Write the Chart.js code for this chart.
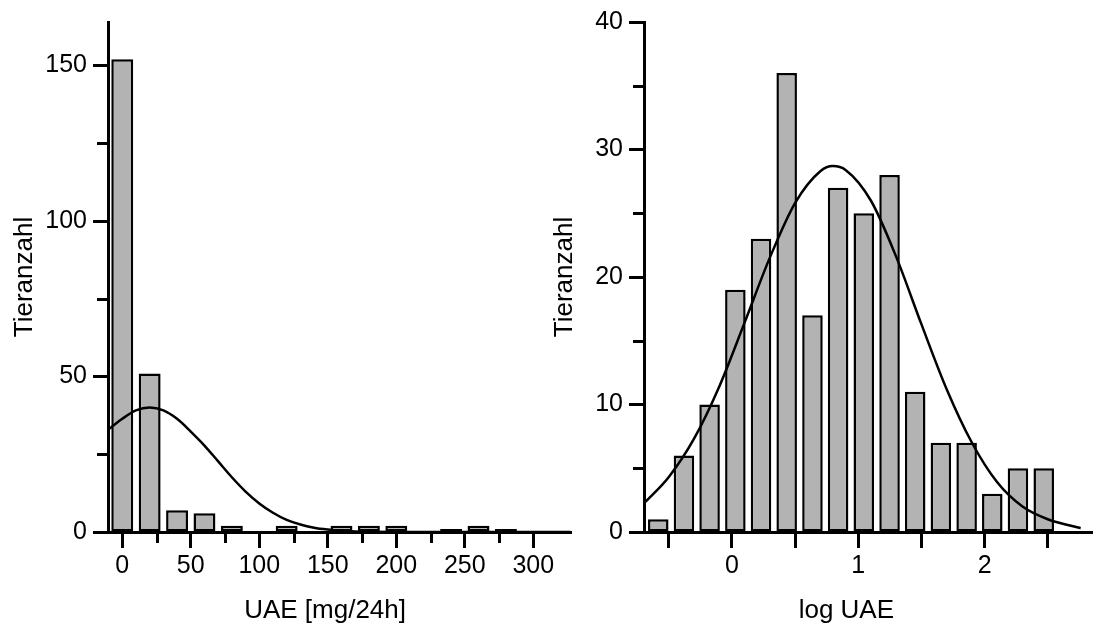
<!DOCTYPE html>
<html>
<head>
<meta charset="utf-8">
<style>
  body { margin: 0; background: #fff; }
  #wrap { position: relative; width: 1093px; height: 630px; }
  canvas { position: absolute; top: 0; }
  #left { left: 0; }
  #right { left: 545px; }
</style>
</head>
<body>
<div id="wrap">
  <canvas id="left" width="585" height="630"></canvas>
  <canvas id="right" width="548" height="630"></canvas>
</div>

<script src="https://cdn.jsdelivr.net/npm/chart.js"></script>

<script>
  // left panel: UAE [mg/24h], bins of 20
  const uaeBins = [0, 20, 40, 60, 80, 100, 120, 140, 160, 180, 200, 220, 240, 260, 280];
  const uaeCounts = [152, 51, 7, 6, 2, 0, 2, 0, 2, 2, 2, 0, 1, 2, 1];
  // fitted normal curve
  const uaeCurveX = [-10, 0, 10, 20, 30, 40, 50, 60, 70, 80, 90, 100, 110, 120, 130, 140, 150, 160, 170, 180, 200, 230, 260, 290, 327];
  const uaeCurveY = [33.0, 36.4, 39.1, 40.0, 39.1, 36.4, 32.3, 27.8, 22.7, 17.6, 13.0, 9.2, 6.2, 3.9, 2.4, 1.4, 0.8, 0.4, 0.2, 0.1, 0.02, 0, 0, 0, 0];
  const uaeXTicks = [0, 50, 100, 150, 200, 250, 300];
  const uaeXMinor = [25, 75, 125, 175, 225, 275];
  const uaeYTicks = [0, 50, 100, 150];
  const uaeYMinor = [25, 75, 125];

  // right panel: log UAE
  const logBins = [-0.582, -0.379, -0.176, 0.028, 0.231, 0.434, 0.638, 0.841, 1.044, 1.248, 1.451, 1.654, 1.858, 2.061, 2.264, 2.468];
  const logCounts = [1, 6, 10, 19, 23, 36, 17, 27, 25, 28, 11, 7, 7, 3, 5, 5];
  const logCurveX = [-0.69, -0.5, -0.3, -0.1, 0.1, 0.3, 0.5, 0.7, 0.8, 0.9, 1.1, 1.3, 1.5, 1.7, 1.9, 2.1, 2.3, 2.5, 2.7, 2.76];
  const logCurveY = [2.3, 4.3, 7.3, 11.4, 16.4, 21.5, 25.8, 28.3, 28.7, 28.4, 26.0, 21.6, 16.3, 11.2, 7.0, 3.9, 2.0, 1.0, 0.45, 0.3];
  const logXTicks = [-0.5, 0, 0.5, 1, 1.5, 2, 2.5];
  const logXLabels = ['', '0', '', '1', '', '2', ''];
  const logYTicks = [0, 10, 20, 30, 40];
  const logYMinor = [5, 15, 25, 35];

  Chart.defaults.font.family = '"Liberation Sans", Arial, sans-serif';
  Chart.defaults.color = '#000';

  const NBSP = '\u00a0';

  // shorter unlabelled ticks
  function minorTicks(axisId, values, len) {
    return {
      id: 'minor_' + axisId,
      afterDraw(chart) {
        const scale = chart.scales[axisId];
        const ctx = chart.ctx;
        ctx.save();
        ctx.strokeStyle = '#000';
        ctx.lineWidth = 3;
        ctx.beginPath();
        values.forEach(v => {
          const p = Math.round(scale.getPixelForValue(v)) + 0.5;
          if (scale.isHorizontal()) {
            ctx.moveTo(p, scale.top);
            ctx.lineTo(p, scale.top + len);
          } else {
            ctx.moveTo(scale.left + scale.width, p);
            ctx.lineTo(scale.left + scale.width - len, p);
          }
        });
        ctx.stroke();
        ctx.restore();
      }
    };
  }

  function xAxis(min, max, ticks, labels, title, tickLen) {
    return {
      type: 'linear', min: min, max: max, offset: false, bounds: 'data',
      afterBuildTicks: s => { s.ticks = ticks.map(v => ({ value: v })); },
      afterFit: s => { s.height = 98; },
      grid: { display: true, drawOnChartArea: false, drawTicks: true, tickLength: tickLen, tickWidth: 3, tickColor: '#000', offset: false },
      border: { display: true, color: '#000', width: 3 },
      ticks: { autoSkip: false, maxRotation: 0, padding: 3, font: { size: 25 }, color: '#000',
               callback: (v, i) => labels[i] },
      title: { display: true, text: title, font: { size: 26 }, color: '#000', padding: { top: 4, bottom: 4 } }
    };
  }

  function yAxis(max, ticks, width) {
    return {
      type: 'linear', min: 0, max: max, bounds: 'data',
      afterBuildTicks: s => { s.ticks = ticks.map(v => ({ value: v })); },
      afterFit: s => { s.width = width; },
      grid: { display: true, drawOnChartArea: false, drawTicks: true, tickLength: 15, tickWidth: 3, tickColor: '#000' },
      border: { display: true, color: '#000', width: 3 },
      ticks: { padding: 6, font: { size: 25 }, color: '#000', callback: v => String(v) },
      title: { display: true, text: 'Tieranzahl', font: { size: 26 }, color: '#000', padding: { top: 4, bottom: 4 } }
    };
  }

  function histogram(id, bins, counts, curveX, curveY, xScale, yScale, padding, plugins) {
    return new Chart(document.getElementById(id), {
      type: 'bar',
      data: {
        datasets: [{
          type: 'line',
          data: curveX.map((x, i) => ({ x: x, y: curveY[i] })),
          borderColor: '#000',
          borderWidth: 2.5,
          pointRadius: 0,
          fill: false,
          cubicInterpolationMode: 'monotone',
          order: 0
        }, {
          type: 'bar',
          data: bins.map((x, i) => ({ x: x, y: counts[i] })),
          backgroundColor: '#b3b3b3',
          borderColor: '#000',
          borderWidth: 2.5,
          borderSkipped: false,
          barPercentage: 0.8,
          categoryPercentage: 1,
          order: 1
        }]
      },
      options: {
        responsive: false,
        animation: false,
        devicePixelRatio: 1,
        layout: { padding: padding },
        scales: { x: xScale, y: yScale },
        plugins: { legend: { display: false }, tooltip: { enabled: false } }
      },
      plugins: plugins
    });
  }

  // trailing spaces pull the centred axis titles left, as in the original
  histogram('left', uaeBins, uaeCounts, uaeCurveX, uaeCurveY,
    xAxis(-10.4, 327.5, uaeXTicks, uaeXTicks.map(String), 'UAE [mg/24h]' + NBSP.repeat(4), 16),
    yAxis(164, uaeYTicks, 103),
    { left: 5, right: 14, top: 22, bottom: 0 },
    [minorTicks('x', uaeXMinor, 11), minorTicks('y', uaeYMinor, 11)]);

  histogram('right', logBins, logCounts, logCurveX, logCurveY,
    xAxis(-0.695, 2.85, logXTicks, logXLabels, 'log UAE' + NBSP.repeat(6), 16),
    yAxis(40, logYTicks, 99),
    { left: 0, right: 1, top: 22, bottom: 0 },
    [minorTicks('y', logYMinor, 11)]);
</script>
</body>
</html>
